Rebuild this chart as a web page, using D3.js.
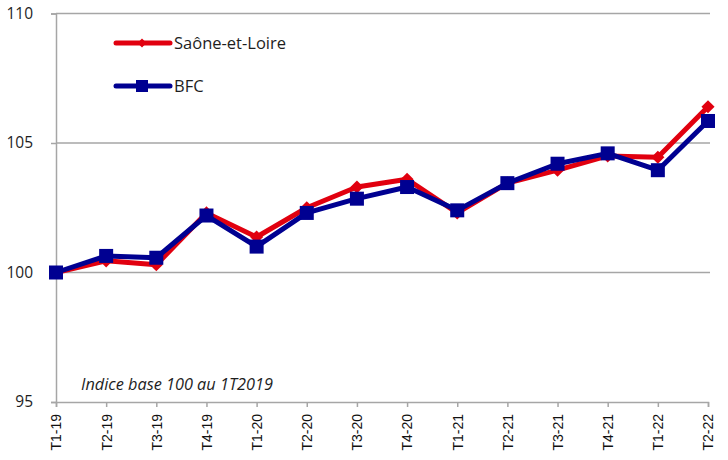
<!DOCTYPE html>
<html>
<head>
<meta charset="utf-8">
<script src="https://cdn.jsdelivr.net/npm/d3@7"></script>
<style>
  body { margin: 0; background: #fff; }
  text { font-family: "Open Sans", Lato, sans-serif; }
</style>
</head>
<body>
<div id="chart"></div>
<script>
const categories = ["T1-19", "T2-19", "T3-19", "T4-19", "T1-20", "T2-20", "T3-20", "T4-20",
    "T1-21", "T2-21", "T3-21", "T4-21", "T1-22", "T2-22"];
const saoneEtLoire = [100, 100.45, 100.3, 102.3, 101.37, 102.5, 103.3, 103.6,
    102.3, 103.45, 103.95, 104.5, 104.45, 106.4];
const bfc = [100, 100.64, 100.57, 102.2, 101.0, 102.3, 102.85, 103.3,
    102.4, 103.45, 104.2, 104.6, 103.95, 105.85];
const yTicks = [95, 100, 105, 110];

const width = 728;
const height = 460;
const plotLeft = 56, plotRight = 708, plotTop = 13.5, plotBottom = 402;

const red = "#e1000f";
const blue = "#000091";
const grey = "#a6a6a6";

const svg = d3.select("#chart").append("svg")
    .attr("width", width)
    .attr("height", height);

// scales
const xScale = d3.scalePoint().domain(categories).range([plotLeft, plotRight]);
const yScale = d3.scaleLinear().domain([95, 110]).range([plotBottom, plotTop]);

// gridlines
svg.append("g")
    .selectAll("line")
    .data(yTicks.slice(1))
    .join("line")
    .attr("x1", plotLeft).attr("x2", plotRight + 2)
    .attr("y1", d => yScale(d)).attr("y2", d => yScale(d))
    .attr("stroke", grey)
    .attr("stroke-width", 1.5);

// axes
const yaxis = svg.append("g")
    .attr("transform", "translate(" + plotLeft + ",0)")
    .call(d3.axisLeft(yScale).tickValues(yTicks).tickSize(5).tickPadding(18));
yaxis.select(".domain").attr("stroke", grey).attr("stroke-width", 1.5);
yaxis.selectAll(".tick line").attr("stroke", grey).attr("stroke-width", 1.5);
yaxis.selectAll(".tick text")
    .style("font-size", "15.5px")
    .style("fill", "#1e1e1e");

const xaxis = svg.append("g")
    .attr("transform", "translate(0," + plotBottom + ")")
    .call(d3.axisBottom(xScale).tickSize(5).tickSizeOuter(5));
xaxis.select(".domain").attr("stroke", grey).attr("stroke-width", 1.5);
xaxis.selectAll(".tick line").attr("stroke", grey).attr("stroke-width", 1.5);
xaxis.selectAll(".tick text")
    .attr("transform", "rotate(-90)")
    .attr("x", -12)
    .attr("y", 0)
    .attr("dy", "0.35em")
    .style("text-anchor", "end")
    .style("font-family", "'Liberation Sans', Arial, sans-serif")
    .style("font-size", "14px")
    .style("fill", "#111");

// lines
const line = d3.line()
    .x((d, i) => xScale(categories[i]))
    .y(d => yScale(d));

svg.append("path")
    .attr("d", line(saoneEtLoire))
    .attr("fill", "none")
    .attr("stroke", red)
    .attr("stroke-width", 5)
    .attr("stroke-linejoin", "round");

svg.append("g")
    .selectAll("path")
    .data(saoneEtLoire)
    .join("path")
    .attr("d", d3.symbol().type(d3.symbolDiamond2).size(110))
    .attr("transform", (d, i) => "translate(" + xScale(categories[i]) + "," + yScale(d) + ")")
    .attr("fill", red);

svg.append("path")
    .attr("d", line(bfc))
    .attr("fill", "none")
    .attr("stroke", blue)
    .attr("stroke-width", 5)
    .attr("stroke-linejoin", "round");

svg.append("g")
    .selectAll("rect")
    .data(bfc)
    .join("rect")
    .attr("x", (d, i) => xScale(categories[i]) - 7)
    .attr("y", d => yScale(d) - 7)
    .attr("width", 14)
    .attr("height", 14)
    .attr("fill", blue);

// legend
const legend = [
    { name: "Saône-et-Loire", color: red, y: 43 },
    { name: "BFC", color: blue, y: 86 }
];
const lg = svg.append("g").selectAll("g").data(legend).join("g");
lg.append("line")
    .attr("x1", 116).attr("x2", 170)
    .attr("y1", d => d.y).attr("y2", d => d.y)
    .attr("stroke", d => d.color)
    .attr("stroke-width", 5)
    .attr("stroke-linecap", "round");
lg.filter(d => d.name === "BFC").append("rect")
    .attr("x", 136).attr("y", d => d.y - 6)
    .attr("width", 12).attr("height", 12)
    .attr("fill", blue);
lg.filter(d => d.name !== "BFC").append("path")
    .attr("d", d3.symbol().type(d3.symbolDiamond2).size(50))
    .attr("transform", d => "translate(142," + d.y + ")")
    .attr("fill", red);
lg.append("text")
    .attr("x", 174)
    .attr("y", d => d.y)
    .attr("dy", "0.35em")
    .style("font-size", "16.5px")
    .style("fill", "#1e1e1e")
    .text(d => d.name);

// note
svg.append("text")
    .attr("x", 81)
    .attr("y", 390)
    .style("font-size", "16.3px")
    .style("font-style", "italic")
    .style("fill", "#1e1e1e")
    .text("Indice base 100 au 1T2019");
</script>
</body>
</html>
